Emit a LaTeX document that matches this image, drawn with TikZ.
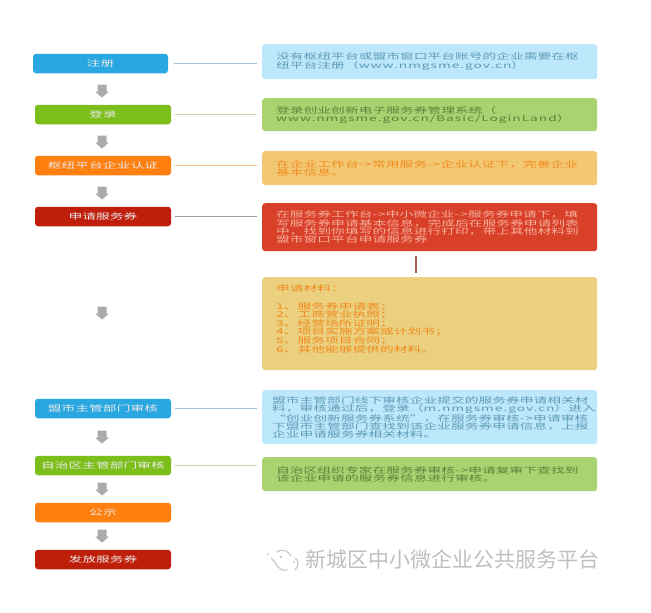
\documentclass[tikz,border=0pt]{standalone}
\usepackage{fontspec}
\newfontfamily\cn[FakeStretch=1.72]{Noto Sans CJK SC}
\newfontfamily\cnl[FakeStretch=1.72,LetterSpace=12]{Noto Sans CJK SC}
\newfontfamily\cnw{Noto Sans CJK SC}
\newcommand{\lat}[1]{{\cnl #1}}
\newcommand{\ind}{\hspace*{14pt}}
\definecolor{lblue}{HTML}{29A7E1}
\definecolor{lgreen}{HTML}{7CBF1B}
\definecolor{lorange}{HTML}{FF7F0F}
\definecolor{lred}{HTML}{BF1F0A}
\definecolor{rblue}{HTML}{BDE8FB}
\definecolor{rgreen}{HTML}{A9D370}
\definecolor{rorange}{HTML}{F3C873}
\definecolor{rred}{HTML}{D8402A}
\definecolor{ryellow}{HTML}{EAD07F}
\definecolor{tblue}{HTML}{5F9AB8}
\definecolor{tgreen}{HTML}{5F7F3A}
\definecolor{torange}{HTML}{F08A1E}
\definecolor{tred}{HTML}{F7B09A}
\definecolor{arrowgray}{HTML}{ABABAB}
\definecolor{linkblue}{HTML}{A9C8DE}
\definecolor{linkgreen}{HTML}{C8D6AA}
\definecolor{linkorange}{HTML}{F3BD8E}
\definecolor{linkdark}{HTML}{A39A98}
\definecolor{tiered}{HTML}{A85A55}
\tikzset{
  stepbox/.style={rounded corners=3pt,minimum width=136pt,minimum height=19.5pt,inner sep=0pt,
    text=white!92!black,anchor=center,font=\cn\fontsize{8}{8}\selectfont},
  infobox/.style={rounded corners=3pt,minimum width=335pt,inner xsep=0pt,inner ysep=0pt,anchor=north west,
    text width=335pt,align=left,font=\cn\fontsize{8}{8.2}\selectfont},
  link/.style={line width=1.1pt,shorten <=3.5pt,shorten >=5.5pt},
  downarrow/.pic={\fill[arrowgray] (-4.5,-6.5) -- (4.5,-6.5) -- (4.5,0.5) -- (7,0.5) -- (0,6.5) -- (-7,0.5) -- (-4.5,0.5) -- cycle;}
}
\begin{document}
\begin{tikzpicture}[x=1pt,y=-1pt]
\useasboundingbox[fill=white] (0,0) rectangle (651,613);
% left steps
\node[stepbox,fill=lblue,minimum width=135pt] (s1) at (100.5,63.5) {注册};
\node[stepbox,fill=lgreen] (s2) at (103,114.5) {登录};
\node[stepbox,fill=lorange] (s3) at (103,165.5) {枢纽平台企业认证};
\node[stepbox,fill=lred] (s4) at (103,216.5) {申请服务券};
\node[stepbox,fill=lblue] (s5) at (103,408.5) {盟市主管部门审核};
\node[stepbox,fill=lgreen] (s6) at (103,465.5) {自治区主管部门审核};
\node[stepbox,fill=lorange] (s7) at (103,512.5) {公示};
\node[stepbox,fill=lred] (s8) at (103,559.5) {发放服务券};
% right boxes
\node[infobox,fill=rblue,minimum height=35pt,text=tblue] (r1) at (262,44) {\ind 没有枢纽平台或盟市窗口平台账号的企业需要在枢\\\ind 纽平台注册（\lat{www.nmgsme.gov.cn}）};
\node[infobox,fill=rgreen,minimum height=33pt,text=tgreen] (r2) at (262,98) {\ind 登录创业创新电子服务券管理系统（\\\ind \lat{www.nmgsme.gov.cn/Basic/LoginLand}）};
\node[infobox,fill=rorange,minimum height=34pt,text=torange] (r3) at (262,151) {\ind 在企业工作台\lat{->}常用服务\lat{->}企业认证下，完善企业\\\ind 基本信息。};
\node[infobox,fill=rred,minimum height=48pt,text=tred] (r4) at (262,203) {\ind 在服务券工作台\lat{->}中小微企业\lat{->}服务券申请下，填\\\ind 写服务券申请基本信息，完成后在服务券申请列表\\\ind 中，找到你填写的信息进行打印，带上其他材料到\\\ind 盟市窗口平台申请服务券};
\node[infobox,fill=ryellow,minimum height=93pt,text=torange,font=\cn\fontsize{8}{8.6}\selectfont] (r5) at (262,277) {\ind 申请材料：\\\ind \mbox{}\\\ind 1、服务券申请表；\\\ind 2、工商营业执照；\\\ind 3、经营场所证明；\\\ind 4、项目实施方案或计划书；\\\ind 5、服务项目合同；\\\ind 6、其他能够提供的材料。\rule[-10pt]{0pt}{0pt}};
\node[infobox,fill=rblue,minimum height=54pt,text=tblue] (r6) at (262,390) {\hspace*{10pt}盟市主管部门线下审核企业提交的服务券申请相关材\\\hspace*{10pt}料，审核通过后，登录（\lat{m.nmgsme.gov.cn}）进入\\\hspace*{10pt}“创业创新服务券系统”，在服务券审核\lat{->}申请审核\\\hspace*{10pt}下盟市主管部门查找到该企业服务券申请信息，上报\\\hspace*{10pt}企业申请服务券相关材料。};
\node[infobox,fill=rgreen,minimum height=34pt,text=tgreen] (r7) at (262,457) {\ind 自治区组织专家在服务券审核\lat{->}申请复审下查找到\\\ind 该企业申请的服务券信息进行审核。};
% links
\draw[link,draw=linkblue,shorten <=6pt] (s1.east) -- (s1.east -| r1.west);
\draw[link,draw=linkgreen] (s2.east) -- (s2.east -| r2.west);
\draw[link,draw=linkorange] (s3.east) -- (s3.east -| r3.west);
\draw[link,draw=linkdark] (s4.east) -- (s4.east -| r4.west);
\draw[link,draw=linkblue] (s5.east) -- (s5.east -| r6.west);
\draw[link,draw=linkgreen] (s6.east) -- (s6.east -| r7.west);
\coordinate (tie) at (416,251);
\draw[line width=1.2pt,draw=tiered,shorten <=5pt,shorten >=4pt] (tie) -- (tie |- r5.north);
% arrows between steps
\pic at (102,91) {downarrow};
\pic at (102,142) {downarrow};
\pic at (102,193) {downarrow};
\pic at (102,313) {downarrow};
\pic at (102,437) {downarrow};
\pic at (102,489) {downarrow};
\pic at (102,536) {downarrow};
% watermark
\node[anchor=west,inner sep=0pt,text=black!25,font=\cnw\fontsize{21}{21}\selectfont] (wm) at (305,559) {新城区中小微企业公共服务平台};
\draw[black!20,line width=1.3pt,line cap=round] (287,570) .. controls (276,571) and (277,562) .. (271,558);
\draw[black!20,line width=1.3pt,line cap=round] (277,552) .. controls (283,548) and (288,551) .. (291,556);
\draw[black!20,line width=1.3pt,line cap=round] (295,570) .. controls (299,566) and (299,560) .. (295,558);
\fill[black!20] (281,557) circle (1.3pt) (294,562) circle (1.1pt) (268,554) circle (1.1pt);
\end{tikzpicture}
\end{document}
